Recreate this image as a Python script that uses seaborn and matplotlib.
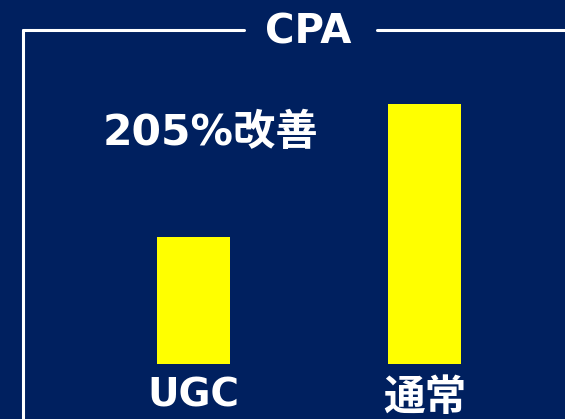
import matplotlib
matplotlib.use("Agg")
import matplotlib.pyplot as plt
import seaborn as sns
import pandas as pd
from matplotlib.lines import Line2D

# -----------------------------
# data
# -----------------------------
categories = ["UGC", "通常"]
cpa_values = [100, 205]
title_text = "CPA"
note_text = "205%改善"

navy = "#00205F"
yellow = "#FFFF00"

sns.set_theme(style="white")
plt.rcParams["font.family"] = ["DejaVu Sans", "Noto Sans CJK JP"]
plt.rcParams["font.weight"] = "bold"

df = pd.DataFrame({"kind": categories, "cpa": cpa_values})

W, H = 565, 419
fig = plt.figure(figsize=(W / 100, H / 100), dpi=100)
fig.patch.set_facecolor(navy)

# axes: bottom of bars at y=364px from top
ax = fig.add_axes([0, 55 / H, 1, (H - 55) / H])
ax.set_facecolor(navy)

sns.barplot(data=df, x="kind", y="cpa", color=yellow, saturation=1,
            width=0.316, linewidth=0, ax=ax)

px_per_unit = 231
ax.set_xlim(-193.5 / px_per_unit, (W - 193.5) / px_per_unit)
ax.set_ylim(0, 364 / 1.27)

for s in ax.spines.values():
    s.set_visible(False)
ax.set_yticks([])
ax.set_xlabel("")
ax.set_ylabel("")
ax.tick_params(axis="x", length=0, pad=9, labelsize=28, labelcolor="white")
for lab in ax.get_xticklabels():
    lab.set_fontweight("bold")
    if not lab.get_text().isascii():
        lab.set_fontsize(30)

# frame lines
def fx(px):
    return px / W

def fy(py):
    return 1 - py / H

lw = 2.2
fig.add_artist(Line2D([fx(23), fx(244)], [fy(30), fy(30)], color="white", lw=lw))
fig.add_artist(Line2D([fx(377), fx(W)], [fy(30), fy(30)], color="white", lw=lw))
fig.add_artist(Line2D([fx(23), fx(23)], [fy(30), 0], color="white", lw=lw))

fig.text(fx(308), fy(32), title_text, ha="center", va="center",
         fontsize=29, fontweight="bold", color="white")
fig.text(fx(210), fy(133), note_text, ha="center", va="center",
         fontsize=30.5, fontweight="bold", color="white")

fig.savefig("out.png", dpi=100, facecolor=navy)
